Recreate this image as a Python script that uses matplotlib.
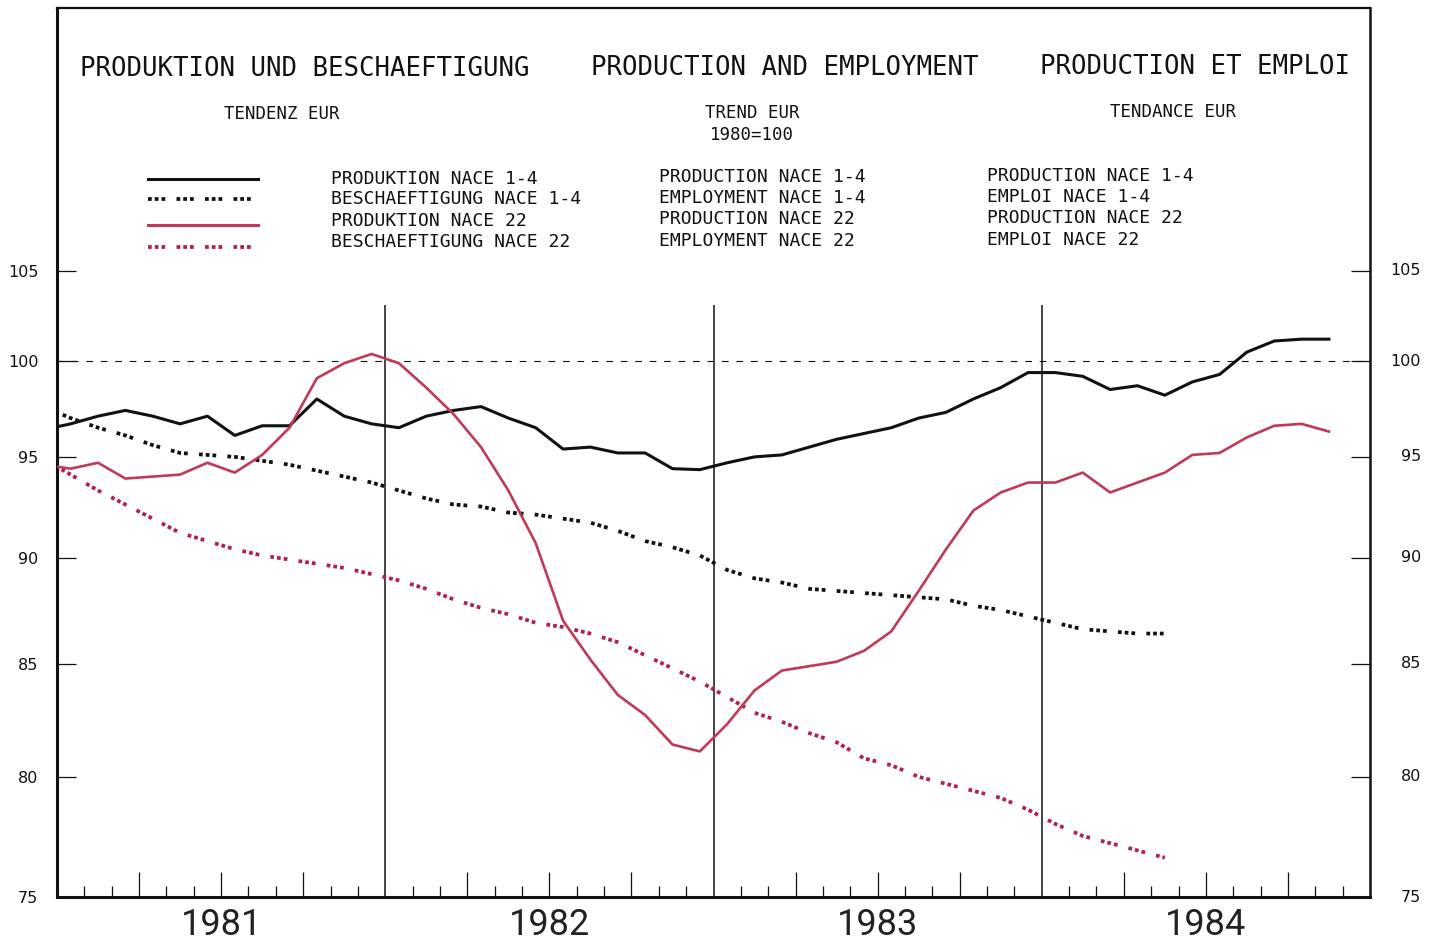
import numpy as np
import matplotlib
matplotlib.use("Agg")
import matplotlib.pyplot as plt
from matplotlib.lines import Line2D
from matplotlib.ticker import FixedLocator, NullLocator, NullFormatter, FixedFormatter
import matplotlib.transforms as mtransforms

# ---------------- data (monthly, mid-month, Dec 1980 .. Nov 1984) ----------------
month_index = np.arange(-1, 47)          # -1 = Dec 1980, 0 = Jan 1981, ...
years = [1981, 1982, 1983, 1984]

prod_nace_1_4 = [96.4, 96.7, 97.1, 97.4, 97.1, 96.7, 97.1, 96.1, 96.6, 96.6, 98.0, 97.1,
                 96.7, 96.5, 97.1, 97.4, 97.6, 97.0, 96.5, 95.4, 95.5, 95.2, 95.2, 94.4,
                 94.35, 94.7, 95.0, 95.1, 95.5, 95.9, 96.2, 96.5, 97.0, 97.3, 98.0, 98.6,
                 99.4, 99.4, 99.2, 98.5, 98.7, 98.2, 98.9, 99.3, 100.5, 101.1, 101.2, 101.2]

prod_nace_22 = [94.6, 94.4, 94.7, 93.9, 94.0, 94.1, 94.7, 94.2, 95.1, 96.5, 99.1, 99.9,
                100.4, 99.9, 98.6, 97.2, 95.5, 93.3, 90.7, 87.0, 85.2, 83.6, 82.7, 81.4,
                81.1, 82.3, 83.8, 84.7, 84.9, 85.1, 85.6, 86.5, 88.4, 90.4, 92.3, 93.2,
                93.7, 93.7, 94.2, 93.2, 93.7, 94.2, 95.1, 95.2, 96.0, 96.6, 96.7, 96.3]

empl_nace_1_4 = [97.6, 97.0, 96.5, 96.1, 95.6, 95.2, 95.1, 95.0, 94.8, 94.6, 94.3, 94.0,
                 93.7, 93.3, 92.9, 92.6, 92.5, 92.2, 92.1, 91.9, 91.7, 91.3, 90.8, 90.5,
                 90.1, 89.4, 89.0, 88.8, 88.5, 88.4, 88.3, 88.2, 88.1, 88.0, 87.7, 87.5,
                 87.2, 86.9, 86.6, 86.5, 86.4, 86.4]

empl_nace_22 = [94.9, 94.1, 93.3, 92.6, 91.9, 91.2, 90.8, 90.4, 90.1, 89.9, 89.7, 89.5,
                89.2, 88.9, 88.5, 88.0, 87.6, 87.3, 86.9, 86.7, 86.4, 86.0, 85.4, 84.8,
                84.2, 83.5, 82.8, 82.4, 81.9, 81.5, 80.8, 80.5, 80.0, 79.7, 79.4, 79.1,
                78.6, 78.0, 77.5, 77.2, 76.9, 76.6]

y_ticks = [75, 80, 85, 90, 95, 100, 105]

title_de = "PRODUKTION UND BESCHAEFTIGUNG"
title_en = "PRODUCTION AND EMPLOYMENT"
title_fr = "PRODUCTION ET EMPLOI"
legend_de = ["PRODUKTION NACE 1-4", "BESCHAEFTIGUNG NACE 1-4", "PRODUKTION NACE 22", "BESCHAEFTIGUNG NACE 22"]
legend_en = ["PRODUCTION NACE 1-4", "EMPLOYMENT NACE 1-4", "PRODUCTION NACE 22", "EMPLOYMENT NACE 22"]
legend_fr = ["PRODUCTION NACE 1-4", "EMPLOI NACE 1-4", "PRODUCTION NACE 22", "EMPLOI NACE 22"]

# ---------------- styling ----------------
W, H = 1437, 943
BLACK = "#111111"
RED = "#c03a58"
RED_DOT = "#b3204d"
DOT = (2.0, (1, 0.8, 1, 0.8, 1, 3.0))
DOT_LEG = (0, (1, 0.8, 1, 0.8, 1, 3.0))
DOT_LW = 2.7
MONO = "DejaVu Sans Mono"

fig = plt.figure(figsize=(W / 100, H / 100), dpi=100)
fig.patch.set_facecolor("white")
ax = fig.add_axes([57 / W, 1 - 897 / H, (1370 - 57) / W, (897 - 8) / H])

t = 1981 + (month_index + 0.5) / 12.0


def tx(n):
    return t[:n]


ax.plot(tx(len(prod_nace_1_4)), prod_nace_1_4, color=BLACK, lw=2.2, solid_joinstyle="round", zorder=5)
ax.plot(tx(len(prod_nace_22)), prod_nace_22, color=RED, lw=1.9, solid_joinstyle="round", zorder=5)
ax.plot(tx(len(empl_nace_1_4)), empl_nace_1_4, color=BLACK, lw=DOT_LW, linestyle=DOT,
        dash_capstyle="butt", zorder=4)
ax.plot(tx(len(empl_nace_22)), empl_nace_22, color=RED_DOT, lw=DOT_LW, linestyle=DOT,
        dash_capstyle="butt", zorder=4)

ax.set_yscale("log")
ax.set_xlim(1981, 1985)
ax.set_ylim(75, 120.9)

# reference line 100
ax.axhline(100, color=BLACK, lw=0.8, linestyle=(0, (6, 7)), zorder=2)
# year separators
ax.vlines([1982, 1983, 1984], 75, 103.1, color=BLACK, lw=1.1, zorder=3)

# spines
for side, lw in [("left", 2.2), ("bottom", 2.2), ("top", 1.6), ("right", 1.8)]:
    ax.spines[side].set_linewidth(lw)
    ax.spines[side].set_color(BLACK)

# y ticks
ax.yaxis.set_major_locator(FixedLocator(y_ticks))
ax.yaxis.set_minor_locator(NullLocator())
ax.yaxis.set_minor_formatter(NullFormatter())
ax.yaxis.set_major_formatter(FixedFormatter([str(v) for v in y_ticks]))
ax.tick_params(axis="y", which="major", direction="in", length=13.7, width=0.9,
               left=True, right=True, labelsize=11.5, pad=13.5, colors=BLACK)
trans_r = mtransforms.blended_transform_factory(ax.transAxes, ax.transData)
for v in y_ticks:
    ax.text(1 + (1421 - 1370) / (1370 - 57), v, str(v), transform=trans_r,
            ha="right", va="center", fontsize=11.5, color=BLACK)

# x ticks: monthly, taller at quarters
months = np.arange(1, 48)
months = months[months % 12 != 0]
major = 1981 + months[months % 3 == 0] / 12.0
minor = 1981 + months[months % 3 != 0] / 12.0
ax.xaxis.set_major_locator(FixedLocator(major))
ax.xaxis.set_minor_locator(FixedLocator(minor))
ax.xaxis.set_major_formatter(NullFormatter())
ax.xaxis.set_minor_formatter(NullFormatter())
ax.tick_params(axis="x", which="major", direction="in", length=18, width=0.9, colors=BLACK)
ax.tick_params(axis="x", which="minor", direction="in", length=8, width=0.9, colors=BLACK)

trans_x = mtransforms.blended_transform_factory(ax.transData, ax.transAxes)
for yr in years:
    ax.text(yr + 0.5, -(925 - 897) / (897 - 8), str(yr), transform=trans_x,
            ha="center", va="center", fontsize=26, family="Roboto", color="#222222")


# ---------------- header texts ----------------
def ftext(px, py, s, **kw):
    fig.text(px / W, 1 - py / H, s, **kw)


ftext(80, 69, title_de, ha="left", va="center", fontsize=18.5, family=MONO, color=BLACK)
ftext(591, 68, title_en, ha="left", va="center", fontsize=18.5, family=MONO, color=BLACK)
ftext(1040, 67, title_fr, ha="left", va="center", fontsize=18.5, family=MONO, color=BLACK)

ftext(282, 114, "TENDENZ EUR", ha="center", va="center", fontsize=12.5, family=MONO, color=BLACK)
ftext(752, 113, "TREND EUR", ha="center", va="center", fontsize=12.5, family=MONO, color=BLACK)
ftext(752, 135, "1980=100", ha="center", va="center", fontsize=12.5, family=MONO, color=BLACK)
ftext(1173, 112, "TENDANCE EUR", ha="center", va="center", fontsize=12.5, family=MONO, color=BLACK)

rows_de = [179, 199, 221, 242]
rows_en = [177, 198, 219, 241]
rows_fr = [176, 197, 218, 240]
for i in range(4):
    ftext(331, rows_de[i], legend_de[i], ha="left", va="center", fontsize=13, family=MONO, color=BLACK)
    ftext(659, rows_en[i], legend_en[i], ha="left", va="center", fontsize=13, family=MONO, color=BLACK)
    ftext(987, rows_fr[i], legend_fr[i], ha="left", va="center", fontsize=13, family=MONO, color=BLACK)

# legend samples
samples = [(179, BLACK, "-", 2.2), (199, BLACK, DOT_LEG, DOT_LW), (225, RED, "-", 2.2), (247, RED_DOT, DOT_LEG, DOT_LW)]
for py, c, ls, lw in samples:
    fig.add_artist(Line2D([148 / W, 258 / W], [1 - py / H, 1 - py / H], color=c,
                          linestyle=ls, lw=lw, dash_capstyle="butt", transform=fig.transFigure))

fig.savefig("out.png", dpi=100, facecolor="white")
